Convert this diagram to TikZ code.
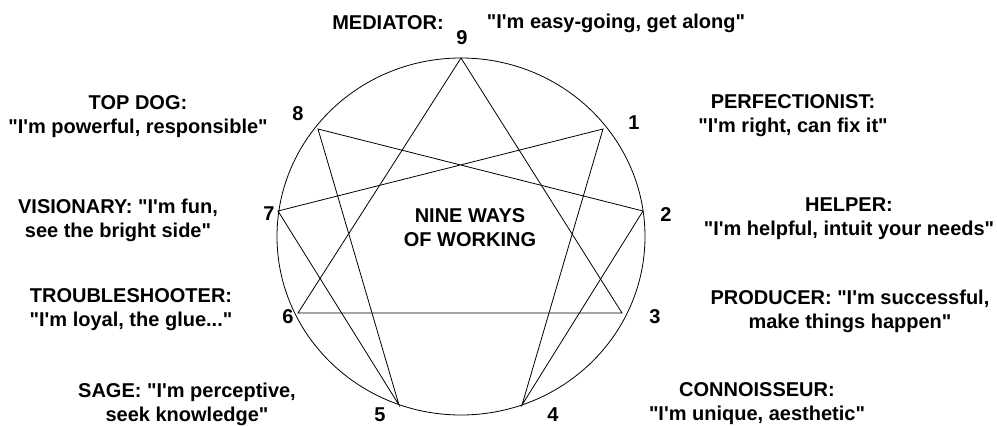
\documentclass[tikz,border=0pt]{standalone}
\usepackage{fontspec}
\setmainfont{Liberation Sans}[Ligatures=TeXOff]
\usepackage{tikz}
\usetikzlibrary{positioning}
\tikzstyle{line} = [line width=0.8pt]

\begin{document}
\begin{tikzpicture}[x=1pt, y=-1pt, every node/.style={font=\fontsize{20}{24}\selectfont\bfseries, inner sep=0pt}, align=center]
\useasboundingbox (0,0) rectangle (997,426);
% Points on the circle
\coordinate (p9) at (461,58);
\coordinate (p1) at (603,129);
\coordinate (p2) at (643,211);
\coordinate (p3) at (622,313);
\coordinate (p4) at (522,405);
\coordinate (p5) at (399,405);
\coordinate (p6) at (298,313);
\coordinate (p7) at (278,211);
\coordinate (p8) at (318,129);

% Circle and lines
\draw [line] (461,236.5) ellipse [x radius=184, y radius=178.5];
\draw [line] (p9) -- (p3) -- (p6) -- cycle;
\draw [line] (p1) -- (p4) -- (p2) -- (p8) -- (p5) -- (p7) -- cycle;

% Numbers
\node (n9) at (462,38) {9};
\node (n1) at (634,123) {1};
\node (n2) at (666,215) {2};
\node (n3) at (655,317) {3};
\node (n4) at (553,415) {4};
\node (n5) at (380,415) {5};
\node (n6) at (288,317) {6};
\node (n7) at (269,214) {7};
\node (n8) at (298,114) {8};

% Center
\node (title) at (470,228) {NINE WAYS \\ OF WORKING};

% Types
\node (mediator) at (388,23) {MEDIATOR:};
\node (mediatorq) at (616,23) {"I'm easy-going, get along"};
\node (perfectionist) at (793,116) {PERFECTIONIST: \\ "I'm right, can fix it"};
\node (helper) at (849,219) {HELPER: \\ "I'm helpful, intuit your needs"};
\node (producer) at (850,311) {PRODUCER: "I'm successful, \\ make things happen"};
\node (connoisseur) at (757,404) {CONNOISSEUR: \\ "I'm unique, aesthetic"};
\node (sage) at (187,404) {SAGE: "I'm perceptive, \\ seek knowledge"};
\node (troubleshooter) at (131,310) {TROUBLESHOOTER: \\ "I'm loyal, the glue..."};
\node (visionary) at (118,220) {VISIONARY: "I'm fun, \\ see the bright side"};
\node (topdog) at (138,117) {TOP DOG: \\ "I'm powerful, responsible"};
\end{tikzpicture}
\end{document}
